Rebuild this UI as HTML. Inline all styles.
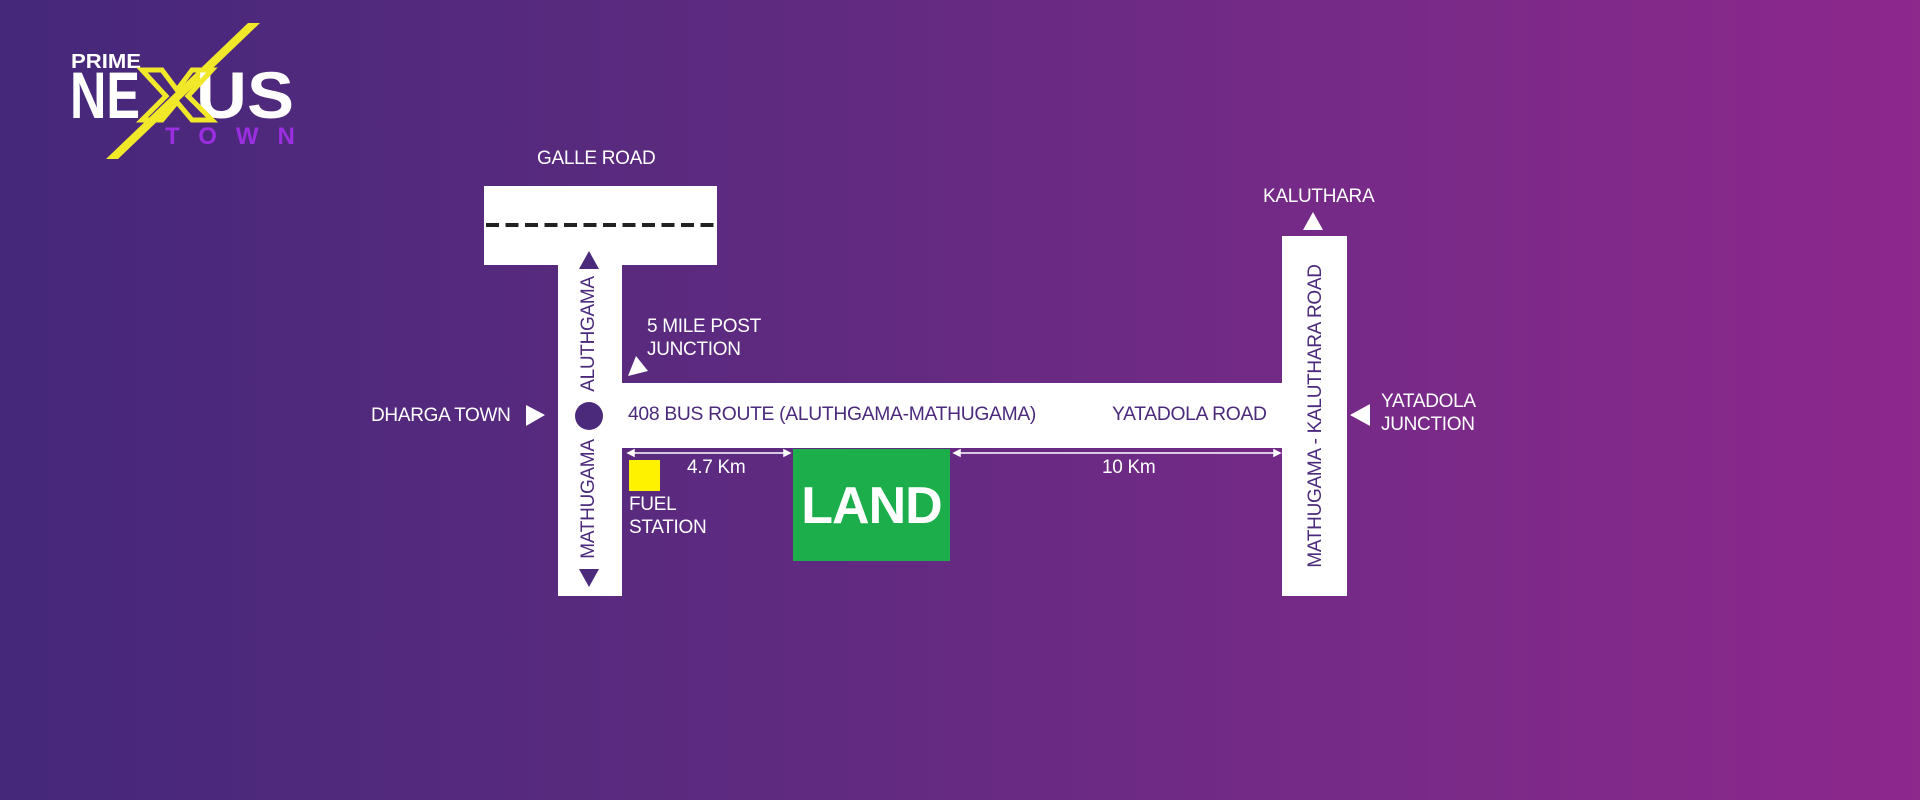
<!DOCTYPE html>
<html><head><meta charset="utf-8"><style>
html,body{margin:0;padding:0}
body{width:1920px;height:800px;position:relative;overflow:hidden;background:linear-gradient(90deg,#45287a 0%,#5e2a80 40%,#762a87 70%,#8d288d 100%);font-family:"Liberation Sans",sans-serif}
.a{position:absolute}
.w{background:#fff}
.t{position:absolute;color:#fff;font-size:19px;white-space:nowrap;letter-spacing:-0.3px}
.p{color:#4b2a7c}
</style></head><body>
<!-- logo -->
<svg class="a" style="left:0;top:0" width="320" height="180">
<polygon points="106,159 118,159 260,23 248,23" fill="#f2e82a"/>
<text x="71" y="68" font-family="Liberation Sans" font-weight="bold" font-size="20" fill="#fff" textLength="70" lengthAdjust="spacingAndGlyphs">PRIME</text>
<text x="70" y="118" font-family="Liberation Sans" font-weight="bold" font-size="66" fill="#fff" textLength="70" lengthAdjust="spacingAndGlyphs">NE</text>
<text x="196" y="118" font-family="Liberation Sans" font-weight="bold" font-size="66" fill="#fff" textLength="98" lengthAdjust="spacingAndGlyphs">US</text>
<polygon points="142,70 162,70 177,90 192,70 212,70 188,96 212,120 192,120 177,102 162,120 142,120 166,96" fill="none" stroke="#f2e82a" stroke-width="5"/>
<text x="165" y="144" font-family="Liberation Sans" font-weight="bold" font-size="24" fill="#9a2ee0" letter-spacing="19">TOWN</text>
</svg>
<!-- roads -->
<div class="a w" style="left:484px;top:186px;width:233px;height:79px"></div>
<svg class="a" style="left:484px;top:220px" width="233" height="10"><line x1="2" y1="5" x2="233" y2="5" stroke="#222" stroke-width="4" stroke-dasharray="13,6.5"/></svg>
<div class="a w" style="left:558px;top:264px;width:64px;height:332px"></div>
<div class="a w" style="left:621px;top:383px;width:662px;height:65px"></div>
<div class="a w" style="left:1282px;top:236px;width:65px;height:360px"></div>
<div class="a" style="left:793px;top:449px;width:157px;height:112px;background:#1bae4b"></div>
<div class="a" style="left:629px;top:460px;width:31px;height:31px;background:#fff200"></div>
<div class="a" style="left:575px;top:402px;width:28px;height:28px;border-radius:50%;background:#4b2a7c"></div>
<svg class="a" style="left:0;top:0" width="1920" height="800">
<polygon points="589,251 579,269 599,269" fill="#4b2a7c"/>
<polygon points="589,587 579,569 599,569" fill="#4b2a7c"/>
<polygon points="1313,212 1303,230 1323,230" fill="#fff"/>
<polygon points="628,376 648,371 636,356" fill="#fff"/>
<polygon points="545,415 526,405 526,426" fill="#fff"/>
<polygon points="1350,415 1370,404 1370,426" fill="#fff"/>
<g stroke="#fff" stroke-width="1.5" fill="#fff">
<line x1="628" y1="453" x2="790" y2="453"/>
<polygon points="628,453 634,450 634,456"/><polygon points="790,453 784,450 784,456"/>
<line x1="954" y1="453" x2="1280" y2="453"/>
<polygon points="954,453 960,450 960,456"/><polygon points="1280,453 1274,450 1274,456"/>
</g>
</svg>
<!-- labels -->
<div class="t" style="left:537px;top:148px">GALLE ROAD</div>
<div class="t" style="left:1263px;top:186px">KALUTHARA</div>
<div class="t" style="left:647px;top:316px">5 MILE POST</div>
<div class="t" style="left:647px;top:339px">JUNCTION</div>
<div class="t" style="left:371px;top:405px">DHARGA TOWN</div>
<div class="t p" style="left:628px;top:404px;font-size:19.3px">408 BUS ROUTE (ALUTHGAMA-MATHUGAMA)</div>
<div class="t p" style="left:1112px;top:404px;font-size:19.3px">YATADOLA ROAD</div>
<div class="t" style="left:1381px;top:391px">YATADOLA</div>
<div class="t" style="left:1381px;top:414px">JUNCTION</div>
<div class="t" style="left:687px;top:457px">4.7 Km</div>
<div class="t" style="left:1102px;top:457px">10 Km</div>
<div class="t" style="left:629px;top:494px">FUEL</div>
<div class="t" style="left:629px;top:517px">STATION</div>
<div class="t" style="left:793px;top:476px;width:157px;text-align:center;font-size:52px;font-weight:bold;letter-spacing:-1px">LAND</div>
<div class="t p" style="left:589px;top:334px;transform:translate(-50%,-50%) rotate(-90deg)">ALUTHGAMA</div>
<div class="t p" style="left:589px;top:499px;transform:translate(-50%,-50%) rotate(-90deg)">MATHUGAMA</div>
<div class="t p" style="left:1316px;top:416px;transform:translate(-50%,-50%) rotate(-90deg)">MATHUGAMA - KALUTHARA ROAD</div>
</body></html>
